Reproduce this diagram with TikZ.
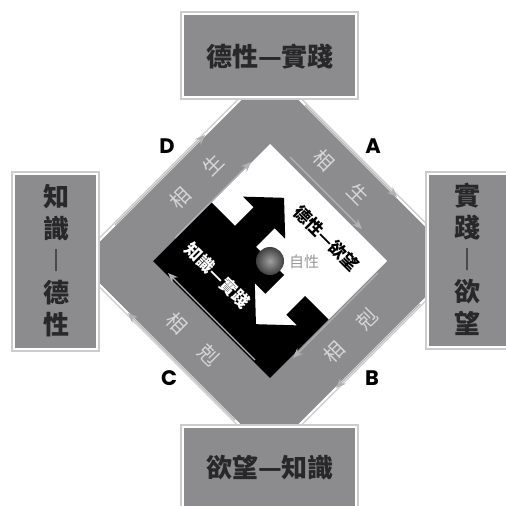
\documentclass[tikz,border=0pt]{standalone}
\usepackage{fontspec}
\newfontfamily\cjk{Noto Sans CJK TC}
\newfontfamily\cjkheavy{Noto Sans CJK TC Black}
\newfontfamily\labfont{Poppins}
\usetikzlibrary{arrows.meta}
\definecolor{bandgray}{RGB}{140,140,142}
\definecolor{arrowgray}{RGB}{178,178,180}
\definecolor{boxtext}{RGB}{40,40,42}
\definecolor{bandtext}{RGB}{214,214,216}
\definecolor{selfgray}{RGB}{150,150,152}
\begin{document}
\begin{tikzpicture}[x=1pt,y=-1pt,font=\cjk,
  box/.style={fill=bandgray, draw=white, line width=2.5pt, preaction={draw=black!20, line width=6pt}, inner sep=0pt},
  boxtxt/.style={text=boxtext, font=\cjkheavy\fontsize{26}{32}\selectfont, align=center, inner sep=0pt},
  bandlab/.style={text=bandtext, font=\cjk\fontsize{20}{20}\selectfont, inner sep=0pt},
  cornerlab/.style={font=\labfont\bfseries\fontsize{21}{21}\selectfont, inner sep=0pt},
  innertxt/.style={font=\cjk\bfseries\fontsize{17}{17}\selectfont, inner sep=0pt},
  edgearrow/.style={draw=arrowgray, line width=1.4pt, -{Stealth[length=10pt,width=8pt]}}]
\useasboundingbox (0,0) rectangle (506,506);
\clip (0,0) rectangle (506,506);
\fill[white] (0,0) rectangle (506,506);

% gray band (outer diamond)
\path[fill=bandgray, draw=white, line width=2pt, preaction={draw=black!18, line width=5pt}]
  (270,70) -- (462,262) -- (269.5,454.5) -- (77.5,262.5) -- cycle;

% inner square in rotated coordinates
\begin{scope}[shift={(153,261)}, x={(117pt,117pt)}, y={(117pt,-117pt)}]
  \fill[white] (0,0) -- (1,0) -- (1,1) -- (0,1) -- cycle;
  \fill[black] (0,0) -- (0.5,0) -- (0.5,0.2) -- (0.66,0.2) -- (0.66,0.11) -- (0.83,0.29)
     -- (0.66,0.47) -- (0.66,0.38) -- (0.5,0.38) -- (0.5,0.62) -- (0.34,0.62) -- (0.34,0.53)
     -- (0.17,0.71) -- (0.34,0.89) -- (0.34,0.8) -- (0.5,0.8) -- (0.5,1) -- (0,1) -- cycle;
\end{scope}
\shade[inner color=gray!75, outer color=black!75] (270,261) circle[radius=14pt];

\node[innertxt, text=black, rotate=-45] (dxyw) at (327,238) {德性—欲望};
\node[innertxt, text=white, rotate=-45] (zssj) at (218,275) {知識—實踐};
\node[text=selfgray, font=\cjk\fontsize{15}{15}\selectfont, inner sep=0pt] (zx) at (304,262) {自性};

% arrows along the band edges
\coordinate (do1) at (115,225); \coordinate (do2) at (205,135);
\coordinate (di1) at (175,238); \coordinate (di2) at (251,162);
\coordinate (ao1) at (305,105); \coordinate (ao2) at (397,197);
\coordinate (ai1) at (290,157); \coordinate (ai2) at (362,229);
\coordinate (bo1) at (420,304); \coordinate (bo2) at (336,388);
\coordinate (bi1) at (378,273); \coordinate (bi2) at (293,358);
\coordinate (co1) at (235,420); \coordinate (co2) at (128,313);
\coordinate (ci1) at (255,360); \coordinate (ci2) at (168,273);
\draw[edgearrow] (do1) -- (do2);
\draw[edgearrow] (di1) -- (di2);
\draw[edgearrow] (ao1) -- (ao2);
\draw[edgearrow] (ai1) -- (ai2);
\draw[edgearrow] (bo1) -- (bo2);
\draw[edgearrow] (bi1) -- (bi2);
\draw[edgearrow] (co1) -- (co2);
\draw[edgearrow] (ci1) -- (ci2);

% band labels
\node[bandlab, rotate=45] (d1) at (180,198) {相};
\node[bandlab, rotate=45] (d2) at (213,165) {生};
\node[bandlab, rotate=-45] (a1) at (324,160) {相};
\node[bandlab, rotate=-45] (a2) at (358,194) {生};
\node[bandlab, rotate=45] (b1) at (334,352) {相};
\node[bandlab, rotate=45] (b2) at (367,319) {剋};
\node[bandlab, rotate=-45] (c1) at (177,323) {相};
\node[bandlab, rotate=-45] (c2) at (209,355) {剋};

% corner letters
\node[cornerlab] (lD) at (167,146) {D};
\node[cornerlab] (lA) at (373,146) {A};
\node[cornerlab] (lC) at (169,378) {C};
\node[cornerlab] (lB) at (372,378) {B};

% boxes
\node[box, minimum width=173pt, minimum height=83pt] (top) at (269.5,55.5) {};
\node[box, minimum width=173pt, minimum height=84pt] (bot) at (269.5,469) {};
\node[box, minimum width=83pt, minimum height=175pt] (lft) at (55.5,261.5) {};
\node[box, minimum width=84pt, minimum height=173pt] (rgt) at (470,260.5) {};

\node[boxtxt] (toptxt) at (270,57) {德性—實踐};
\node[boxtxt] (bottxt) at (270,468) {欲望—知識};
\node[boxtxt] (lfttxt) at (56,261) {知\\識\\︱\\德\\性};
\node[boxtxt] (rgttxt) at (467,259) {實\\踐\\︱\\欲\\望};
\end{tikzpicture}
\end{document}
